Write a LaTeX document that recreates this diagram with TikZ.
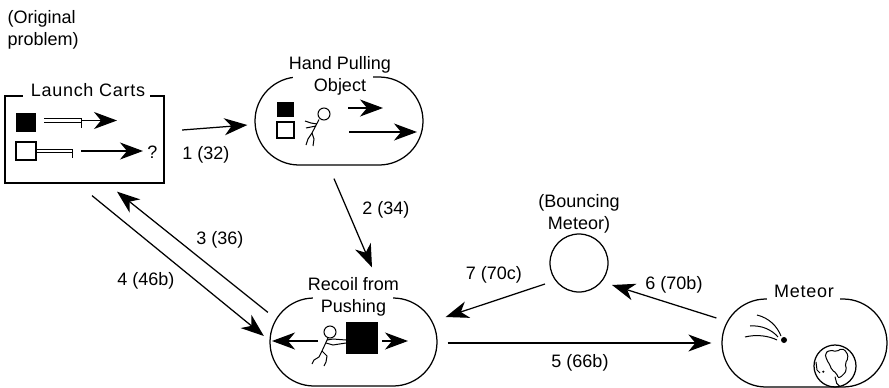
\documentclass[tikz,border=0pt]{standalone}
\usepackage{fontspec}
\setmainfont{Liberation Sans}
\newfontfamily\spacedfont[LetterSpace=4]{Liberation Sans}
\usetikzlibrary{arrows.meta,calc}

\begin{document}
\begin{tikzpicture}[
  x=1pt, y=-1pt,
  line width=1.25pt,
  every node/.style={font=\fontsize{18}{22}\selectfont, inner sep=0pt},
  tip/.style={-{Stealth[length=23pt,width=17pt,inset=7pt]}},
  link/.style={tip},
  stadium/.style={draw, rectangle, rounded corners=44pt, minimum width=#1, minimum height=88pt},
  cartbox/.style={draw, rectangle, minimum width=159pt, minimum height=87pt},
  ring/.style={draw, circle, minimum size=58pt},
  title/.style={align=center},
  spaced/.style={font=\spacedfont\fontsize{18}{22}\selectfont},
  fine/.style={line width=1pt},
]
\useasboundingbox (0,0) rectangle (889,388);

% ---- scenario boxes
\node[cartbox] (carts) at (84.5,139.5) {};
\node[stadium=168pt] (hand) at (339,121) {};
\node[stadium=167pt] (recoil) at (353.5,342) {};
\node[stadium=165pt] (meteor) at (804.5,343) {};
\node[ring] (bounce) at (579,263) {};

% ---- breaks in the top borders for the titles
\fill[white] (23,92) rectangle (150,100);
\fill[white] (293,73) rectangle (373,81);
\fill[white] (313,294) rectangle (393,302);
\fill[white] (767,295) rectangle (840,303);

% ---- titles
\node[align=left, anchor=west] (origT) at (7,29.5) {(Original\\problem)};
\node[spaced, anchor=base] (cartsT) at (88,96) {Launch Carts};
\node[title] (handT) at (340,76.3) {Hand Pulling\\Object};
\node[title] (recoilT) at (353.5,297.3) {Recoil from\\Pushing};
\node[spaced, anchor=base] (meteorT) at (804,297) {Meteor};
\node[title] (bounceT) at (579,213.5) {(Bouncing\\Meteor)};

% ---- launch carts: loaded cart and empty cart
\fill (16,113) rectangle (36,132);
\draw[fine] (44,118.5) -- (82,118.5) (44,122.5) -- (82,122.5) (81,118.5) -- (81,128);
\draw[tip] (82,120.5) -- (117,120.5);
\draw (16,142) rectangle (36,160);
\draw[fine] (36,149) -- (73,149) (36,152.5) -- (73,152.5) (72,149) -- (72,158);
\draw[tip] (81,151) -- (143,151);
\node (cartsQ) at (152.5,152.5) {?};

% ---- hand pulling object
\fill (277,102) rectangle (294,117);
\draw (277,122) rectangle (294,138);
\draw[fine] (324,114) circle (6);
\draw[fine] (319,119.5) -- (312,133);
\draw[fine] (317,124) -- (311,123) -- (305,121);
\draw[fine] (316,126) -- (311,127) -- (306,128);
\draw[fine] (312,133) -- (308,139) -- (306,145);
\draw[fine] (312,133) -- (314,139) -- (313,146);
\draw[tip] (348,108) -- (383,108);
\draw[tip] (349,132) -- (417,132);

% ---- recoil from pushing
\draw[tip] (318,341) -- (272,341);
\draw[fine] (330,332) circle (6);
\draw[fine] (328,338) -- (322,351);
\draw[fine] (327,340) -- (333,339) -- (346,340);
\draw[fine] (326,343) -- (333,345) -- (346,343);
\draw[fine] (322,351) -- (319,357) -- (314,360) -- (312,364);
\draw[fine] (322,351) -- (327,356) -- (326,362) -- (324,366);
\fill (346,322) rectangle (378,354);
\draw[tip] (382,341) -- (408,341);

% ---- meteor heading for the earth
\draw[fine] (757,315) .. controls (769,318) and (777,326) .. (781,336);
\draw[fine] (750,326) .. controls (762,325) and (772,330) .. (778,337);
\draw[fine] (745,337) .. controls (757,334) and (769,336) .. (777,340);
\fill (784,340) circle (3);
\draw (835,366) circle (21);
\draw[fine, rounded corners=2pt] (825,353.3) -- (830,350) -- (836.7,351.7) -- (841.7,348.3)
  -- (846.7,351.7) -- (848.3,358.3) -- (845,363.3) -- (846.7,370) -- (843.3,375)
  -- (838.3,378.3) -- (836.7,373.3) -- (831.7,370) -- (830,365) -- (826.7,360) -- cycle;
\draw[fine] (835,376.7) -- (836.7,383.3) -- (840,386.7);
\draw[fine] (816,362) -- (817,370) -- (820,373);
\fill (823.3,371.7) circle (1.2);

% ---- connectors
\draw[link] ($(carts.east)+(17.5,-9.5)$) -- ($(hand.west)+(-7,4)$);
\draw[link] ($(hand.south)+(-5,13)$) -- ($(recoil.north)+(18.5,-30)$);
\draw[link] ($(recoil.north west)+(-1.5,15)$) -- ($(carts.south)+(32.5,8)$);
\draw[link] ($(carts.south)+(7.5,12)$) -- ($(recoil.west)+(-5.5,-6)$);
\draw[link] ($(recoil.east)+(10,1)$) -- ($(meteor.west)+(-10,0)$);
\draw[link] ($(meteor.west)+(-5,-25)$) -- ($(bounce.center)+(33,22)$);
\draw[link] ($(bounce.center)+(-34,21)$) -- ($(recoil.east)+(8,-25)$);

% ---- connector labels
\node (l1) at (206,155) {1 (32)};
\node (l2) at (386,209.5) {2 (34)};
\node (l3) at (220,240) {3 (36)};
\node (l4) at (146,281) {4 (46b)};
\node (l5) at (580,363) {5 (66b)};
\node (l6) at (674,285) {6 (70b)};
\node (l7) at (494,275) {7 (70c)};
\end{tikzpicture}
\end{document}
